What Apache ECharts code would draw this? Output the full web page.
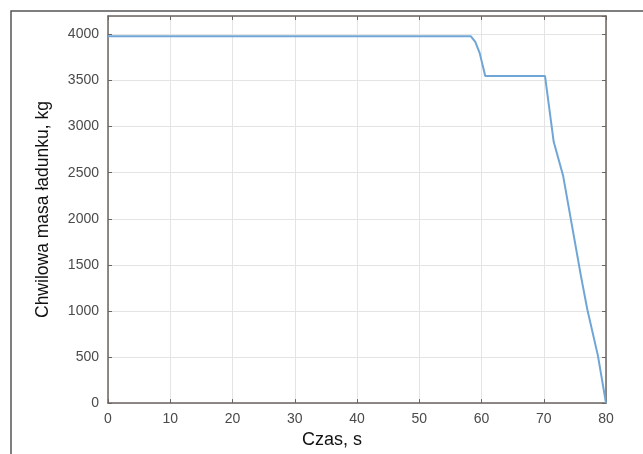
<!DOCTYPE html>
<html>
<head>
<meta charset="utf-8">
<script src="https://cdn.jsdelivr.net/npm/echarts@6/dist/echarts.min.js"></script>
<style>
  html, body { margin: 0; padding: 0; background: #fff; }
  #chart { width: 643px; height: 454px; }
</style>
</head>
<body>
<div id="chart"></div>
<script>
// czas (s) i chwilowa masa ładunku (kg)
const czas = [0, 58.3, 59.0, 59.7, 60.2, 60.6, 70.2, 71.6, 73.1, 74.3, 76.0, 77.0, 78.7, 80];
const masa = [3980, 3980, 3920, 3800, 3660, 3550, 3550, 2835, 2470, 2015, 1370, 1015, 515, 0];
const xTicks = [0, 10, 20, 30, 40, 50, 60, 70, 80];
const yTicks = [0, 500, 1000, 1500, 2000, 2500, 3000, 3500, 4000];

const axisColor = '#6b6461';
const labelColor = '#4a4a4a';

const chart = echarts.init(document.getElementById('chart'));

chart.setOption({
  animation: false,
  backgroundColor: '#fff',
  textStyle: { fontFamily: 'Liberation Sans, Arial, sans-serif' },
  grid: { left: 108, right: 37, top: 16, bottom: 46 },
  graphic: [
    {
      type: 'rect',
      shape: { x: 11, y: 11, width: 660, height: 470 },
      style: { fill: 'none', stroke: '#555', lineWidth: 1.5 },
      silent: true
    }
  ],
  xAxis: [
    {
      type: 'value',
      min: xTicks[0],
      max: xTicks[xTicks.length - 1],
      interval: 10,
      name: 'Czas, s',
      nameLocation: 'middle',
      nameGap: 26,
      nameTextStyle: { fontSize: 18, color: '#111', padding: [0, 50, 0, 0] },
      axisLine: { show: true, onZero: false, lineStyle: { color: axisColor, width: 1.5 } },
      axisTick: { show: true, inside: true, length: 4, lineStyle: { color: axisColor } },
      axisLabel: { fontSize: 14, color: labelColor, margin: 9 },
      splitLine: { lineStyle: { color: '#e4e4e4', width: 1 } }
    },
    {
      type: 'value',
      position: 'top',
      min: xTicks[0],
      max: xTicks[xTicks.length - 1],
      interval: 10,
      axisLine: { show: true, onZero: false, lineStyle: { color: axisColor, width: 1.5 } },
      axisTick: { show: true, inside: true, length: 4, lineStyle: { color: axisColor } },
      axisLabel: { show: false },
      splitLine: { show: false }
    }
  ],
  yAxis: [
    {
      type: 'value',
      min: 0,
      max: 4200,
      interval: 500,
      name: 'Chwilowa masa ładunku, kg',
      nameLocation: 'middle',
      nameGap: 56,
      nameTextStyle: { fontSize: 17.5, color: '#111' },
      axisLine: { show: true, onZero: false, lineStyle: { color: axisColor, width: 1.5 } },
      axisTick: { show: true, inside: true, length: 4, lineStyle: { color: axisColor } },
      axisLabel: {
        fontSize: 14,
        color: labelColor,
        margin: 9,
        showMaxLabel: false,
        formatter: v => (yTicks.indexOf(v) >= 0 ? String(v) : '')
      },
      splitLine: { lineStyle: { color: '#e4e4e4', width: 1 } }
    },
    {
      type: 'value',
      position: 'right',
      min: 0,
      max: 4200,
      interval: 500,
      axisLine: { show: true, onZero: false, lineStyle: { color: axisColor, width: 1.5 } },
      axisTick: { show: true, inside: true, length: 4, lineStyle: { color: axisColor } },
      axisLabel: { show: false },
      splitLine: { show: false }
    }
  ],
  series: [
    {
      type: 'line',
      xAxisIndex: 0,
      yAxisIndex: 0,
      showSymbol: false,
      lineStyle: { color: '#6fa6d6', width: 2 },
      data: czas.map((t, i) => [t, masa[i]])
    }
  ]
});
</script>
</body>
</html>
